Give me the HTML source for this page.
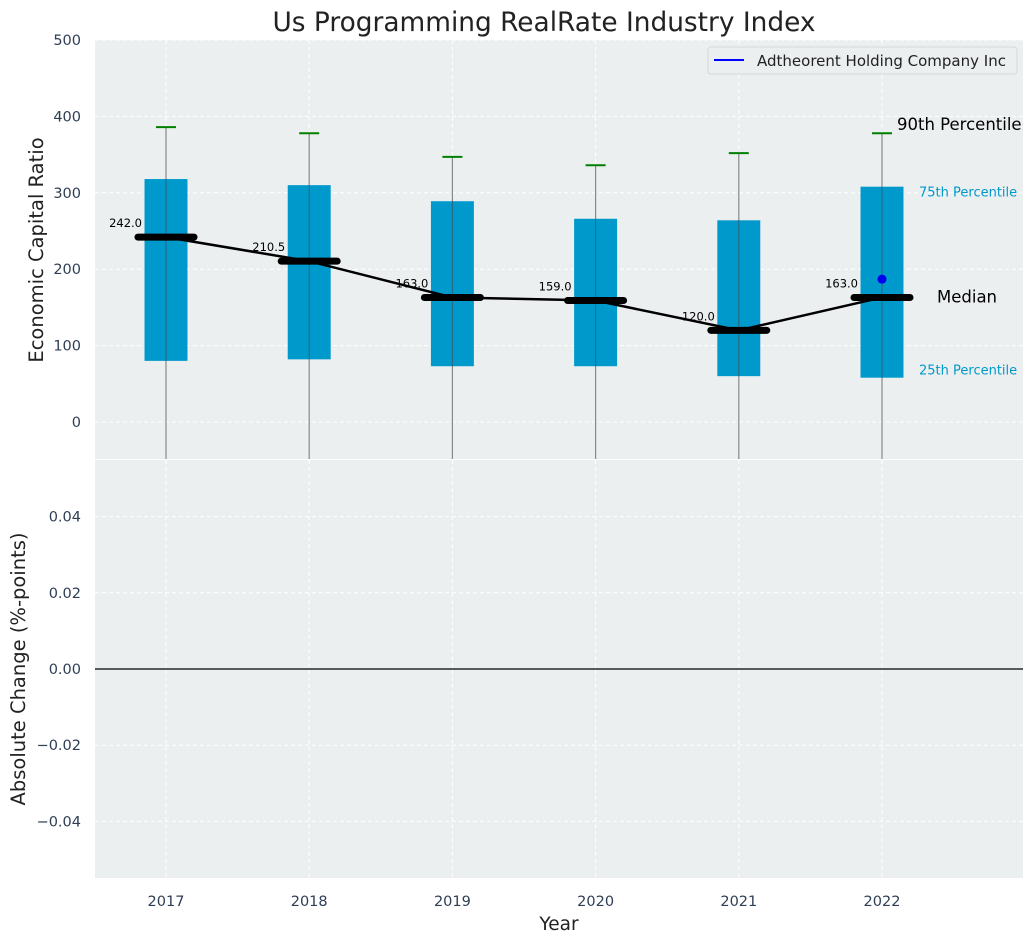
<!DOCTYPE html>
<html><head><meta charset="utf-8"><style>
body{margin:0;background:#fff;font-family:"DejaVu Sans","Liberation Sans",sans-serif;}
svg text{font-family:"DejaVu Sans","Liberation Sans",sans-serif;}
</style></head><body>
<svg id="c" width="1034" height="942" xmlns="http://www.w3.org/2000/svg"></svg>
<script>
const years=[2017,2018,2019,2020,2021,2022];
const q1=[80,82,73,73,60,58];
const q3=[318,310,289,266,264,308];
const p90=[386,378,347,336,352,378];
const medians=[242,210.5,163,159,120,163];
const companyYears=[2022];
const companyVals=[187];
const topTicks=[0,100,200,300,400,500];
const botTicks=[-0.04,-0.02,0,0.02,0.04];
const botLabels=["\u22120.04","\u22120.02","0.00","0.02","0.04"];

const svg=document.getElementById('c');
const NS='http://www.w3.org/2000/svg';
function mk(t,a,p){const e=document.createElementNS(NS,t);for(const k in a)e.setAttribute(k,a[k]);(p||svg).appendChild(e);return e;}
const L=95,R=1023,T1=40,B1=459,T2=460,B2=878;
const YW=143.2;
const x=v=>166+(v-2017)*YW;
const y1=v=>422-(v)*0.764;
const y2=v=>669-v*3810;

const a1=mk('rect',{x:L,y:T1,width:R-L,height:B1-T1,fill:'#eceff0'});

const a2=mk('rect',{x:L,y:T2,width:R-L,height:B2-T2,fill:'#eceff0'});


years.forEach(v=>{
 mk('line',{x1:x(v),x2:x(v),y1:T1,y2:B1,stroke:'#fff','stroke-dasharray':'4,3','stroke-width':1});
 mk('line',{x1:x(v),x2:x(v),y1:T2,y2:B2,stroke:'#fff','stroke-dasharray':'4,3','stroke-width':1});
 const t=mk('text',{x:x(v),y:906,'text-anchor':'middle','font-size':14.5,fill:'#2e3e55'});t.textContent=v;
 
});
topTicks.forEach(v=>{
 mk('line',{x1:L,x2:R,y1:y1(v),y2:y1(v),stroke:'#fff','stroke-dasharray':'4,3'});
 const t=mk('text',{x:81,y:y1(v)+5,'text-anchor':'end','font-size':14.5,fill:'#2e3e55'});t.textContent=v;
 
});
botTicks.forEach((v,i)=>{
 mk('line',{x1:L,x2:R,y1:y2(v),y2:y2(v),stroke:'#fff','stroke-dasharray':'4,3'});
 const t=mk('text',{x:81,y:y2(v)+5,'text-anchor':'end','font-size':14.5,fill:'#2e3e55'});t.textContent=botLabels[i];
 
});
mk('line',{x1:L,x2:R,y1:y2(0),y2:y2(0),stroke:'#000','stroke-width':1.2});

const bw=YW*0.3;
years.forEach((v,i)=>{
 const cx=x(v);
 const w=mk('line',{x1:cx,x2:cx,y1:y1(p90[i]),y2:B1,stroke:'#888','stroke-width':1.2});
 
 const b=mk('rect',{x:cx-bw/2,y:y1(q3[i]),width:bw,height:y1(q1[i])-y1(q3[i]),fill:'#0099cc'});
 
 mk('line',{x1:cx,x2:cx,y1:y1(q3[i]),y2:y1(q1[i]),stroke:'#444','stroke-width':1,opacity:0.6});
 const c=mk('line',{x1:cx-10,x2:cx+10,y1:y1(p90[i]),y2:y1(p90[i]),stroke:'green','stroke-width':2});
 
});
const pl=mk('polyline',{points:years.map((v,i)=>x(v)+','+y1(medians[i])).join(' '),fill:'none',stroke:'#000','stroke-width':2.5});

years.forEach((v,i)=>{
 const m=mk('line',{x1:x(v)-28,x2:x(v)+28,y1:y1(medians[i]),y2:y1(medians[i]),stroke:'#000','stroke-width':7,'stroke-linecap':'round'});
 
 const t=mk('text',{x:x(v)-24,y:y1(medians[i])-10,'text-anchor':'end','font-size':11.5,fill:'#000'});t.textContent=medians[i].toFixed(1);
 
});
companyYears.forEach((v,i)=>{
 const d=mk('circle',{cx:x(v),cy:y1(companyVals[i]),r:4.5,fill:'#0000ee'});
 
});
const lx=x(2022);
[['90th Percentile',lx+15,y1(p90[5])-3,16.5,'#000'],['75th Percentile',lx+37,y1(q3[5])+10,13,'#0099cc'],
 ['Median',lx+55,y1(medians[5])+5,16.5,'#000'],['25th Percentile',lx+37,y1(q1[5])-3,13,'#0099cc']].forEach(a=>{
 const t=mk('text',{x:a[1],y:a[2],'font-size':a[3],fill:a[4]});t.textContent=a[0];
 
});
const lg=mk('g',{});
mk('rect',{x:708,y:47,width:309,height:27,rx:3,fill:'#eceff0',stroke:'#d5d8dc'},lg);
mk('line',{x1:714,x2:744,y1:60,y2:60,stroke:'#0000ff','stroke-width':2},lg);
const lt=mk('text',{x:757,y:66,'font-size':15,fill:'#222'},lg);lt.textContent='Adtheorent Holding Company Inc';
let t=mk('text',{x:544,y:31,'text-anchor':'middle','font-size':26.4,fill:'#222'});t.textContent='Us Programming RealRate Industry Index';

t=mk('text',{x:559,y:930,'text-anchor':'middle','font-size':18.5,fill:'#222'});t.textContent='Year';

t=mk('text',{x:0,y:0,'text-anchor':'middle','font-size':19.5,fill:'#222',transform:'translate(43,250) rotate(-90)'});t.textContent='Economic Capital Ratio';

t=mk('text',{x:0,y:0,'text-anchor':'middle','font-size':19.5,fill:'#222',transform:'translate(25,669) rotate(-90)'});t.textContent='Absolute Change (%-points)';

</script>
</body></html>
